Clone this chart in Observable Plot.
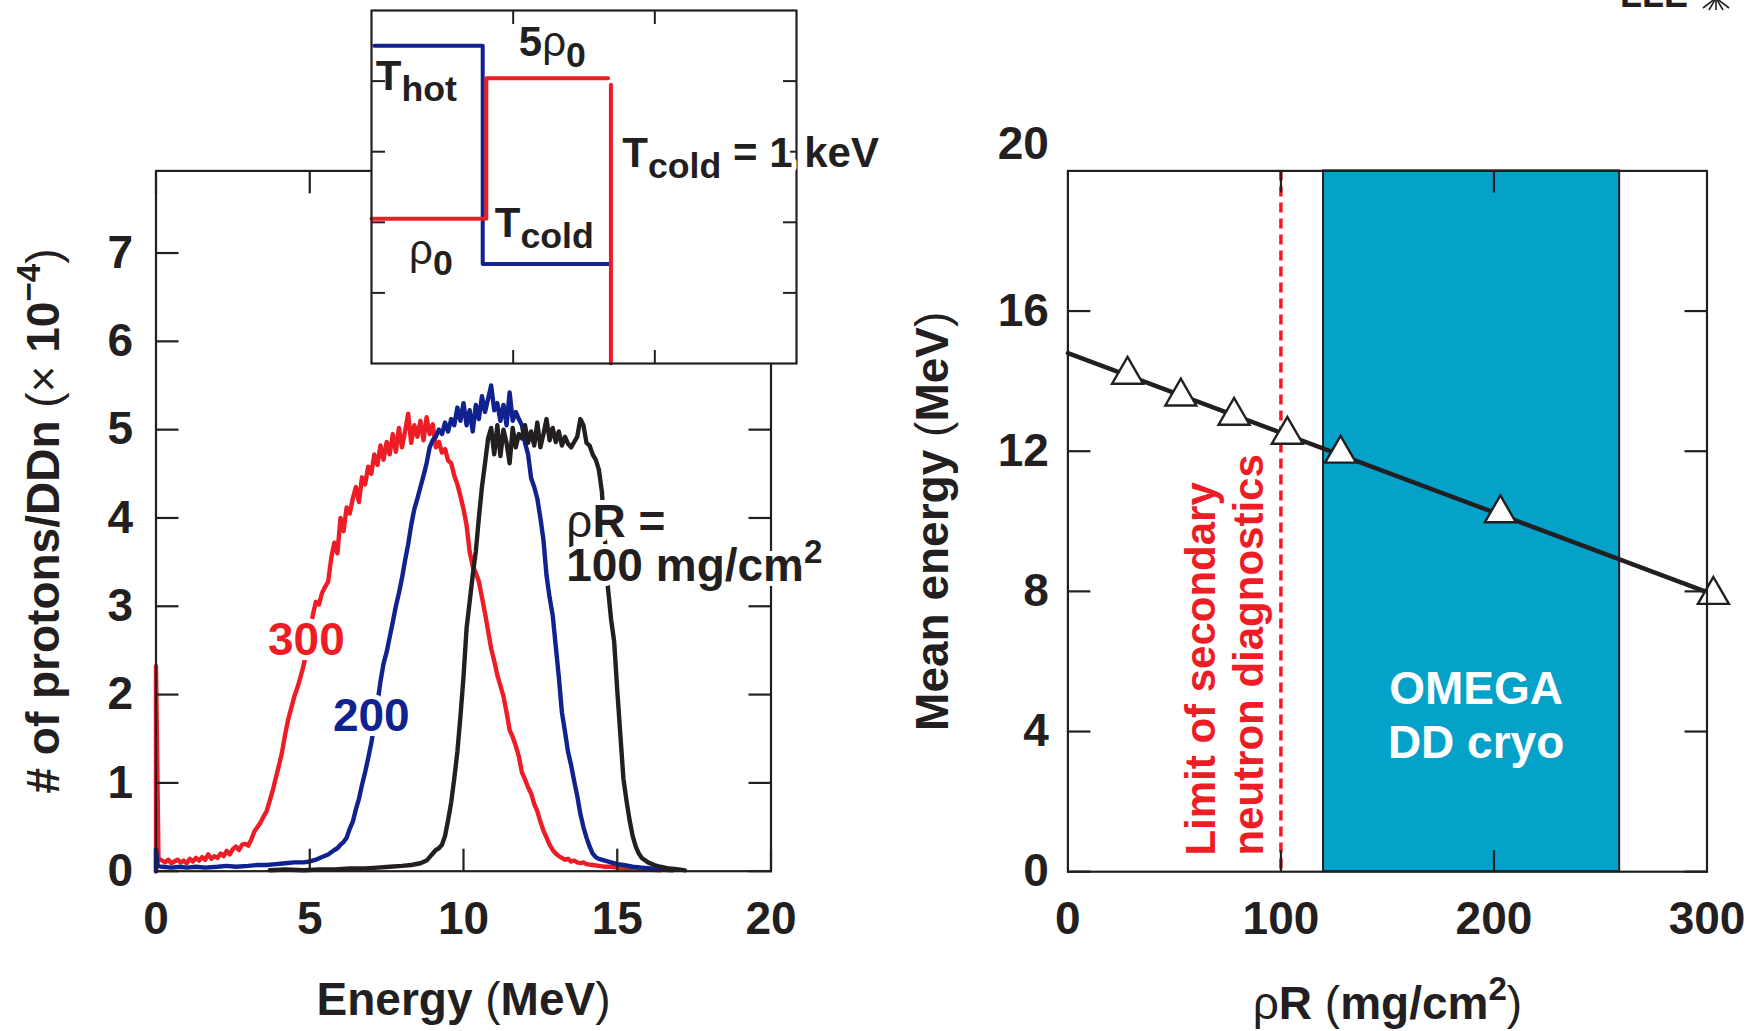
<!DOCTYPE html>
<html><head><meta charset="utf-8">
<script src="https://cdn.jsdelivr.net/npm/d3@7"></script>
<script src="https://cdn.jsdelivr.net/npm/@observablehq/plot@0.6"></script>
<style>
html,body{margin:0;padding:0;background:#fff;overflow:hidden}
#root{position:relative;width:1758px;height:1031px;overflow:hidden;font-family:"Liberation Sans",Arial,sans-serif;font-weight:bold;color:#231f20}
#logo{position:absolute;left:1620px;top:-23px;font-size:36px;font-weight:bold;line-height:1;z-index:5}
#burst{position:absolute;left:1698px;top:0px;z-index:5}
</style></head><body><div id="root"><div id="logo">LLE</div>
<svg id="burst" width="36" height="12" viewBox="0 0 36 12"><g stroke="#231f20" stroke-width="1.6" fill="none"><line x1="18" y1="-2" x2="18" y2="10"/><line x1="18" y1="-2" x2="11" y2="10"/><line x1="18" y1="-2" x2="25" y2="10"/><line x1="18" y1="-2" x2="5" y2="8"/><line x1="18" y1="-2" x2="31" y2="8"/></g></svg>
</div>
<script>
// ---------- data ----------
// proton spectra: [energy MeV, protons/DDn ×1e-4]
const spectrum300 = [[0,0],[0,2.32],[0.08,0.15],[0.1,0.14],[0.2,0.12],[0.3,0.10],[0.4,0.13],[0.5,0.09],[0.6,0.11],[0.7,0.13],[0.8,0.10],[0.9,0.12],[1.0,0.09],[1.1,0.14],[1.2,0.11],[1.3,0.15],[1.4,0.12],[1.5,0.16],[1.6,0.13],[1.7,0.19],[1.8,0.14],[1.9,0.17],[2.0,0.15],[2.1,0.20],[2.2,0.17],[2.3,0.23],[2.4,0.19],[2.5,0.25],[2.6,0.28],[2.7,0.24],[2.8,0.30],[2.9,0.31],[3.0,0.29],[3.1,0.36],[3.2,0.45],[3.3,0.50],[3.4,0.55],[3.5,0.62],[3.6,0.68],[3.7,0.80],[3.8,0.92],[3.9,1.06],[4.0,1.20],[4.1,1.35],[4.2,1.55],[4.3,1.72],[4.4,1.85],[4.5,1.98],[4.6,2.08],[4.7,2.20],[4.8,2.33],[4.9,2.50],[5.0,2.72],[5.1,2.90],[5.2,3.05],[5.3,3.02],[5.4,3.15],[5.5,3.22],[5.6,3.28],[5.7,3.55],[5.8,3.72],[5.9,3.60],[6.0,4.00],[6.1,3.85],[6.2,4.12],[6.3,4.05],[6.4,4.22],[6.5,4.35],[6.6,4.18],[6.7,4.46],[6.8,4.38],[6.9,4.58],[7.0,4.50],[7.1,4.72],[7.2,4.60],[7.3,4.82],[7.4,4.66],[7.5,4.86],[7.6,4.72],[7.7,4.95],[7.8,4.75],[7.9,5.02],[8.0,4.80],[8.1,4.98],[8.2,5.18],[8.3,4.85],[8.4,5.05],[8.5,4.92],[8.6,5.10],[8.7,4.88],[8.8,5.14],[8.9,4.95],[9.0,5.06],[9.1,4.80],[9.2,4.86],[9.3,4.74],[9.4,4.78],[9.5,4.65],[9.6,4.62],[9.7,4.48],[9.8,4.38],[9.9,4.25],[10.0,4.10],[10.1,3.92],[10.2,3.62],[10.3,3.45],[10.4,3.38],[10.5,3.28],[10.6,3.10],[10.7,2.92],[10.8,2.72],[10.9,2.52],[11.0,2.38],[11.1,2.22],[11.2,2.10],[11.3,1.98],[11.4,1.80],[11.5,1.60],[11.6,1.52],[11.7,1.42],[11.8,1.30],[11.9,1.12],[12.0,1.04],[12.1,0.95],[12.2,0.88],[12.3,0.76],[12.4,0.68],[12.5,0.56],[12.6,0.46],[12.7,0.38],[12.8,0.30],[12.9,0.24],[13.0,0.20],[13.1,0.17],[13.2,0.15],[13.3,0.13],[13.4,0.14],[13.5,0.11],[13.6,0.12],[13.7,0.10],[13.8,0.09],[13.9,0.10],[14.0,0.08],[14.2,0.07],[14.4,0.06],[14.6,0.05],[14.8,0.05],[15.0,0.04],[15.3,0.03],[15.6,0.03],[16.0,0.02],[16.4,0.01]];
const spectrum200 = [[0,0],[0,0.25],[0.06,0.06],[0.2,0.05],[0.5,0.04],[0.8,0.05],[1.0,0.04],[1.3,0.05],[1.6,0.04],[2.0,0.05],[2.3,0.06],[2.6,0.05],[3.0,0.06],[3.3,0.07],[3.6,0.07],[3.9,0.08],[4.2,0.09],[4.5,0.10],[4.8,0.10],[5.0,0.11],[5.2,0.13],[5.4,0.16],[5.6,0.19],[5.8,0.24],[5.9,0.26],[6.0,0.30],[6.1,0.33],[6.2,0.38],[6.3,0.48],[6.4,0.56],[6.5,0.70],[6.6,0.82],[6.7,0.98],[6.8,1.12],[6.9,1.28],[7.0,1.45],[7.1,1.65],[7.2,1.90],[7.3,2.15],[7.4,2.35],[7.5,2.48],[7.6,2.65],[7.7,2.82],[7.8,3.00],[7.9,3.15],[8.0,3.32],[8.1,3.52],[8.2,3.70],[8.3,3.92],[8.4,4.10],[8.5,4.22],[8.6,4.35],[8.7,4.48],[8.8,4.62],[8.9,4.80],[9.0,4.88],[9.1,4.92],[9.2,5.00],[9.3,4.95],[9.4,5.08],[9.5,4.98],[9.6,5.12],[9.7,5.05],[9.8,5.25],[9.9,5.10],[10.0,5.30],[10.1,5.05],[10.2,5.22],[10.3,4.98],[10.4,5.28],[10.5,5.12],[10.6,5.38],[10.7,5.20],[10.8,5.35],[10.9,5.50],[11.0,5.22],[11.1,5.30],[11.2,5.10],[11.3,5.28],[11.4,5.05],[11.5,5.42],[11.6,5.10],[11.7,5.20],[11.8,5.12],[11.9,5.05],[12.0,4.85],[12.1,4.72],[12.2,4.45],[12.3,4.35],[12.4,4.22],[12.5,4.00],[12.6,3.75],[12.7,3.35],[12.8,3.10],[12.9,2.90],[13.0,2.55],[13.1,2.20],[13.2,1.80],[13.3,1.58],[13.4,1.35],[13.5,1.20],[13.6,1.02],[13.7,0.85],[13.8,0.65],[13.9,0.50],[14.0,0.38],[14.1,0.28],[14.2,0.20],[14.3,0.16],[14.4,0.14],[14.6,0.12],[14.8,0.10],[15.0,0.08],[15.2,0.07],[15.5,0.05],[15.8,0.04],[16.1,0.03],[16.4,0.02],[16.8,0.01]];
const spectrum100 = [[3.7,0.01],[4.2,0.02],[4.8,0.01],[5.3,0.02],[5.8,0.02],[6.3,0.03],[6.8,0.03],[7.2,0.04],[7.6,0.05],[8.0,0.06],[8.3,0.07],[8.6,0.09],[8.8,0.12],[8.9,0.16],[9.0,0.20],[9.1,0.24],[9.2,0.26],[9.3,0.30],[9.4,0.40],[9.5,0.58],[9.6,0.78],[9.7,1.05],[9.8,1.35],[9.9,1.75],[10.0,2.20],[10.1,2.75],[10.2,3.05],[10.3,3.35],[10.4,3.62],[10.5,4.00],[10.6,4.35],[10.7,4.62],[10.8,4.90],[10.9,5.02],[11.0,4.72],[11.1,5.05],[11.2,4.70],[11.3,5.00],[11.4,4.85],[11.5,4.62],[11.6,5.02],[11.7,4.80],[11.8,4.95],[11.9,4.90],[12.0,5.05],[12.1,4.85],[12.2,4.98],[12.3,4.82],[12.4,5.08],[12.5,4.80],[12.6,4.95],[12.7,5.12],[12.8,4.88],[12.9,5.02],[13.0,4.86],[13.1,4.98],[13.2,4.82],[13.3,4.92],[13.4,4.84],[13.5,4.80],[13.6,4.86],[13.7,4.92],[13.8,5.12],[13.9,5.05],[14.0,4.85],[14.1,4.82],[14.2,4.72],[14.3,4.66],[14.4,4.55],[14.5,4.30],[14.6,3.75],[14.7,3.20],[14.8,2.85],[14.9,2.60],[15.0,2.05],[15.1,1.55],[15.2,1.05],[15.3,0.80],[15.4,0.58],[15.5,0.40],[15.6,0.28],[15.7,0.20],[15.8,0.15],[16.0,0.10],[16.2,0.07],[16.4,0.05],[16.7,0.03],[17.0,0.02],[17.2,0.01]];

const energyTicks = [0, 5, 10, 15, 20];
const countTicks = [0, 1, 2, 3, 4, 5, 6, 7];
const curveLabelText = ["300", "200", "!{ρ}R =\n100 mg/cm^{2}"];
const curveLabelEnergy = [4.89, 7.0, 13.34];
const curveLabelCount = [2.62, 1.76, 3.69];

// inset: density / temperature profiles (arbitrary units)
const insetTempX = [0.02, 0.785, 0.785, 1.68];
const insetTempY = [4.5, 4.5, 1.41, 1.41];
const insetDensX = [0, 0.81, 0.81, 1.67];
const insetDensY = [2.05, 2.05, 4.04, 4.04];
const insetEdgeX = [1.69, 1.69];
const insetEdgeY = [3.95, 0];
const insetLabelText = ["5!{ρ}_{0}", "T_{hot}", "!{ρ}_{0}", "T_{cold}", "T_{cold} = 1 keV"];
const insetLabelX = [1.04, 0.03, 0.265, 0.87, 1.77];
const insetLabelY = [4.35, 3.88, 1.41, 1.79, 2.78];

// right panel: mean proton energy vs rhoR
const rhoR = [28, 53, 78, 103, 128, 203, 303];
const meanEnergy = [14.18, 13.56, 13.01, 12.47, 11.93, 10.23, 7.9];
const fitRhoR = [0, 300];
const fitMeanEnergy = [14.8, 7.98];
const rhoRTicks = [0, 100, 200, 300];
const energyTicksR = [0, 4, 8, 12, 16];
const neutronLimit = 100;
const cryoRange = [120, 259];
const limitLabel = "Limit of secondary\nneutron diagnostics";
const limitLabelAt = [73, 0.46];
const cryoLabel = "OMEGA\nDD cryo";
const cryoLabelAt = [191.6, 4.51];

// ---------- styling ----------
const INK = "#231f20", RED = "#ee1c25", BLUE = "#0f2290", TEAL = "#04a1c9";
const FONT = "'Liberation Sans', Arial, sans-serif";
const baseStyle = {fontFamily: FONT, fontWeight: "bold", color: INK, background: "transparent", overflow: "visible"};
const root = document.getElementById("root");
const intFmt = d => String(d);

function place(svg, left, top) {
  svg.style.position = "absolute";
  svg.style.left = left + "px";
  svg.style.top = top + "px";
  root.appendChild(svg);
  richify(svg);
}

// turn _{..} (sub), ^{..} (sup), !{..} (light) markers into tspans
function richify(svg) {
  const ns = "http://www.w3.org/2000/svg";
  svg.querySelectorAll("text, tspan").forEach(el => {
    if (el.querySelector("tspan")) return;
    const s = el.textContent;
    if (!/[_^!]\{/.test(s)) return;
    el.textContent = "";
    let offset = 0;
    const add = (txt, kind) => {
      if (!txt) return;
      const t = document.createElementNS(ns, "tspan");
      if (kind === "_" || kind === "^") {
        const k = kind === "_" ? 0.85 : 0.72;
        const target = kind === "_" ? 0.26 : -0.40;
        t.setAttribute("font-size", k + "em");
        t.setAttribute("dy", ((target - offset) / k).toFixed(3) + "em");
        offset = target;
      } else {
        if (offset) t.setAttribute("dy", (-offset).toFixed(3) + "em");
        offset = 0;
        if (kind === "!") t.setAttribute("font-weight", "normal");
      }
      t.textContent = txt;
      el.appendChild(t);
    };
    const re = /([_^!])\{([^}]*)\}/g;
    let last = 0, m;
    while ((m = re.exec(s))) {
      add(s.slice(last, m.index), "");
      add(m[2], m[1]);
      last = re.lastIndex;
    }
    add(s.slice(last), "");
  });
}

const rows = (pairs) => pairs.map(([e, n]) => ({e, n}));
const zipRows = (xs, ys) => xs.map((x, i) => ({x, y: ys[i]}));

// ---------- left panel ----------
const curveLabels = curveLabelText.map((t, i) => ({t, e: curveLabelEnergy[i], n: curveLabelCount[i]}));
const left = Plot.plot({
  width: 880, height: 1031,
  marginLeft: 155.5, marginRight: 109.5, marginTop: 170.4, marginBottom: 160.3,
  style: baseStyle,
  x: {domain: [0, 20]},
  y: {domain: [0, 7.93]},
  marks: [
    Plot.line(rows(spectrum300), {x: "e", y: "n", stroke: RED, strokeWidth: 4.4}),
    Plot.line(rows(spectrum200), {x: "e", y: "n", stroke: BLUE, strokeWidth: 4.4}),
    Plot.line(rows(spectrum100), {x: "e", y: "n", stroke: INK, strokeWidth: 4.4}),
    Plot.frame({stroke: INK, strokeWidth: 2.2}),
    Plot.axisX(energyTicks, {anchor: "bottom", tickSize: -22, fill: "none", label: null, stroke: INK, strokeWidth: 2.2}),
    Plot.axisX(energyTicks, {anchor: "top", tickSize: -22, fill: "none", label: null, stroke: INK, strokeWidth: 2.2}),
    Plot.axisY(countTicks, {anchor: "left", tickSize: -23, fill: "none", label: null, stroke: INK, strokeWidth: 2.2}),
    Plot.axisY(countTicks, {anchor: "right", tickSize: -23, fill: "none", label: null, stroke: INK, strokeWidth: 2.2}),
    Plot.axisX(energyTicks, {anchor: "bottom", tickSize: 0, tickPadding: 30, fontSize: 46, tickFormat: intFmt,
      label: "Energy !{(}MeV!{)}", labelAnchor: "center", labelArrow: "none", labelOffset: 144}),
    Plot.axisY(countTicks, {anchor: "left", tickSize: 0, tickPadding: 23, fontSize: 46, tickFormat: intFmt,
      label: "# of protons/DDn !{(×} 10^{−4}!{)}", labelAnchor: "center", labelArrow: "none", labelOffset: 130}),
    Plot.text([curveLabels[0]], {x: "e", y: "n", text: "t", fill: RED, stroke: "white", strokeWidth: 10, fontSize: 46, textAnchor: "middle", lineAnchor: "middle"}),
    Plot.text([curveLabels[1]], {x: "e", y: "n", text: "t", fill: BLUE, stroke: "white", strokeWidth: 10, fontSize: 46, textAnchor: "middle", lineAnchor: "middle"}),
    Plot.text([curveLabels[2]], {x: "e", y: "n", text: "t", fill: INK, stroke: "white", strokeWidth: 10, fontSize: 46, textAnchor: "start", lineAnchor: "middle", lineHeight: 0.95})
  ]
});
place(left, 0, 0);

// ---------- inset ----------
const insetLabels = insetLabelText.map((t, i) => ({t, x: insetLabelX[i], y: insetLabelY[i]}));
const inset = Plot.plot({
  width: 540, height: 380,
  marginLeft: 11, marginRight: 104, marginTop: 10, marginBottom: 17,
  style: baseStyle,
  x: {domain: [0, 3]},
  y: {domain: [0, 5]},
  marks: [
    Plot.frame({fill: "white"}),
    Plot.line(zipRows(insetTempX, insetTempY), {x: "x", y: "y", stroke: BLUE, strokeWidth: 4}),
    Plot.line(zipRows(insetDensX, insetDensY), {x: "x", y: "y", stroke: RED, strokeWidth: 4}),
    Plot.line(zipRows(insetEdgeX, insetEdgeY), {x: "x", y: "y", stroke: RED, strokeWidth: 4}),
    Plot.axisX([1, 2], {anchor: "bottom", tickSize: -13, fill: "none", label: null, stroke: INK, strokeWidth: 2}),
    Plot.axisX([1, 2], {anchor: "top", tickSize: -13, fill: "none", label: null, stroke: INK, strokeWidth: 2}),
    Plot.axisY([1, 2, 3, 4], {anchor: "left", tickSize: -14, fill: "none", label: null, stroke: INK, strokeWidth: 2}),
    Plot.axisY([1, 2, 3, 4], {anchor: "right", tickSize: -14, fill: "none", label: null, stroke: INK, strokeWidth: 2}),
    Plot.frame({stroke: INK, strokeWidth: 2.2}),
    Plot.text(insetLabels.slice(0, 4), {x: "x", y: "y", text: "t", fill: INK, fontSize: 42, textAnchor: "start", lineAnchor: "bottom"}),
    Plot.text(insetLabels.slice(4), {x: "x", y: "y", text: "t", fill: INK, stroke: "white", strokeWidth: 10, fontSize: 42, textAnchor: "start", lineAnchor: "bottom"})
  ]
});
place(inset, 360, 0);

// ---------- right panel ----------
const right = Plot.plot({
  width: 878, height: 1031,
  marginLeft: 187.4, marginRight: 51.5, marginTop: 170.4, marginBottom: 159.8,
  style: baseStyle,
  x: {domain: [0, 300]},
  y: {domain: [0, 20]},
  marks: [
    Plot.rect([cryoRange], {x1: d => d[0], x2: d => d[1], fill: TEAL, stroke: INK, strokeWidth: 2}),
    Plot.ruleX([neutronLimit], {stroke: RED, strokeWidth: 3.5, strokeDasharray: "10,6"}),
    Plot.line(zipRows(fitRhoR, fitMeanEnergy), {x: "x", y: "y", stroke: INK, strokeWidth: 4.4}),
    Plot.dot(zipRows(rhoR, meanEnergy), {x: "x", y: "y", symbol: "triangle", r: 11.5, fill: "white", stroke: INK, strokeWidth: 2.4}),
    Plot.frame({stroke: INK, strokeWidth: 2.2}),
    Plot.axisX([100, 200], {anchor: "bottom", tickSize: -21, fill: "none", label: null, stroke: INK, strokeWidth: 2.2}),
    Plot.axisX([100, 200], {anchor: "top", tickSize: -21, fill: "none", label: null, stroke: INK, strokeWidth: 2.2}),
    Plot.axisY(energyTicksR, {anchor: "left", tickSize: -23, fill: "none", label: null, stroke: INK, strokeWidth: 2.2}),
    Plot.axisY(energyTicksR, {anchor: "right", tickSize: -23, fill: "none", label: null, stroke: INK, strokeWidth: 2.2}),
    Plot.axisX(rhoRTicks, {anchor: "bottom", tickSize: 0, tickPadding: 30, fontSize: 46, tickFormat: intFmt,
      label: "!{ρ}R !{(}mg/cm^{2}!{)}", labelAnchor: "center", labelArrow: "none", labelOffset: 147}),
    Plot.axisY(energyTicksR, {anchor: "left", tickSize: 0, tickPadding: 19, fontSize: 46, tickFormat: intFmt,
      label: "Mean energy !{(}MeV!{)}", labelAnchor: "center", labelArrow: "none", labelOffset: 153}),
    Plot.axisY([20], {anchor: "left", tickSize: 0, tickPadding: 19, fontSize: 46, dy: -27, label: null, tickFormat: intFmt}),
    Plot.text([limitLabel], {x: limitLabelAt[0], y: limitLabelAt[1], text: d => d, rotate: -90, fill: RED, fontSize: 42, textAnchor: "start", lineAnchor: "middle", lineHeight: 1.14}),
    Plot.text([cryoLabel], {x: cryoLabelAt[0], y: cryoLabelAt[1], text: d => d, fill: "white", fontSize: 46, textAnchor: "middle", lineAnchor: "middle", lineHeight: 1.18})
  ]
});
place(right, 880, 0);
</script></body></html>
